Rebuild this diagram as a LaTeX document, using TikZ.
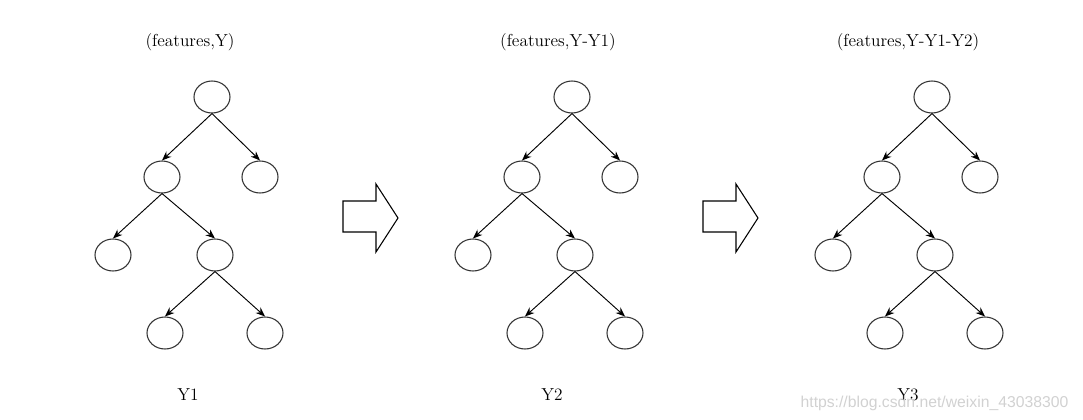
\documentclass[tikz,border=0pt]{standalone}
\usepackage{fontspec}
\newfontfamily\wmfont{Liberation Sans}
\usetikzlibrary{arrows.meta, shapes.geometric}

\begin{document}
\begin{tikzpicture}[
    x = 0.75pt, y = -0.75pt,
    leaf/.style = {ellipse, draw = black!80, line width = 0.8pt, minimum width = 27pt, minimum height = 24pt, inner sep = 0pt},
    e0/.style = {-{Stealth[length = 7pt, width = 5.5pt]}, line width = 0.7pt},
    txt/.style = {font = \fontsize{13}{15}\selectfont},
]
\useasboundingbox (0,0) rectangle (1083,419);

\foreach \i/\ox/\tl/\tx/\yl/\yx in {1/0/{(features,Y)}/190/Y1/188, 2/360/{(features,Y-Y1)}/558/Y2/552, 3/720/{(features,Y-Y1-Y2)}/908/Y3/908} {
    \node[txt] (t\i) at (\tx, 42) {\tl};
    \node[leaf] (r\i) at (212+\ox, 97) {};
    \node[leaf] (a\i) at (162+\ox, 177) {};
    \node[leaf] (b\i) at (260+\ox, 177) {};
    \node[leaf] (c\i) at (113+\ox, 255) {};
    \node[leaf] (d\i) at (215+\ox, 255) {};
    \node[leaf] (e\i) at (165+\ox, 333) {};
    \node[leaf] (f\i) at (265+\ox, 333) {};
    \draw[e0] (r\i.south) -- (a\i.north);
    \draw[e0] (r\i.south) -- (b\i.north);
    \draw[e0] (a\i.south) -- (c\i.north);
    \draw[e0] (a\i.south) -- (d\i.north);
    \draw[e0] (d\i.south) -- (e\i.north);
    \draw[e0] (d\i.south) -- (f\i.north);
    \node[txt] (y\i) at (\yx, 395) {\yl};
}

% hollow arrows between the trees
\foreach \ox in {0, 360} {
    \draw[line width = 0.8pt] (343+\ox, 201) -- (376+\ox, 201) -- (376+\ox, 184) -- (398+\ox, 218)
        -- (376+\ox, 252) -- (376+\ox, 232) -- (343+\ox, 232) -- cycle;
}

\node[font = \wmfont\fontsize{11.8}{13}\selectfont, text = black!18, anchor = east] (wm) at (1073, 403) {https://blog.csdn.net/weixin\_43038300};
\end{tikzpicture}
\end{document}
